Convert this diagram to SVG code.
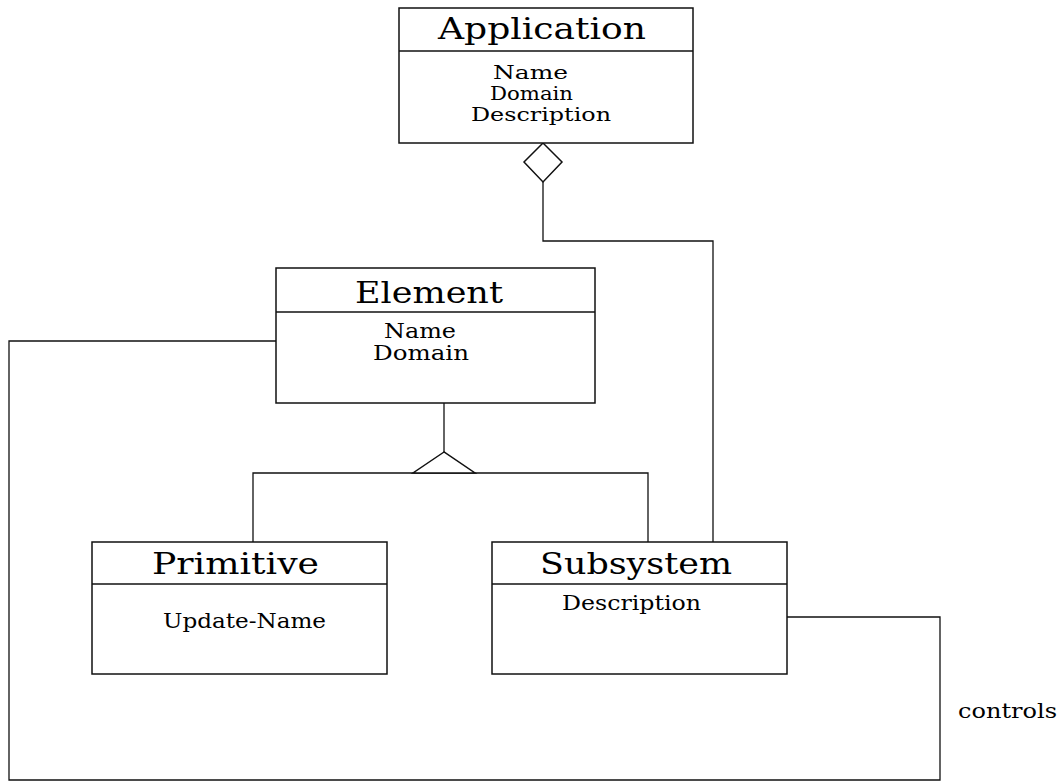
<svg xmlns="http://www.w3.org/2000/svg" width="1064" height="782" viewBox="0 0 1064 782">
<style>
.box{fill:#fff;stroke:#111;stroke-width:1.5}
.div{stroke:#111;stroke-width:1.5}
.ln{fill:none;stroke:#111;stroke-width:1.3}
.sym{fill:#fff;stroke:#111;stroke-width:1.5}
.t{font-family:"DejaVu Serif","Liberation Serif",serif;font-size:29px;fill:#000}
.a{font-family:"DejaVu Serif","Liberation Serif",serif;font-size:20px;fill:#000}
.s{font-size:18px}
</style>
<rect width="1064" height="782" fill="#fff"/>
<g id="connectors">
<path class="ln" d="M543,182 V241 H713 V542"/>
<path class="ln" d="M444,403 V452"/>
<path class="ln" d="M253,542 V473 H648 V542"/>
<path class="ln" d="M276,341 H9 V780 H940 V617 H787"/>
<polygon class="sym" points="444,452 413,473 475,473"/>
<polygon class="sym" points="543,143 524,162 543,182 562,162"/>
<text class="a" x="958" y="718" textLength="99" lengthAdjust="spacingAndGlyphs">controls</text>
</g>
<g id="application">
<rect class="box" x="399" y="8" width="294" height="135"/>
<line class="div" x1="399" y1="51" x2="693" y2="51"/>
<text class="t" x="438" y="39" textLength="208" lengthAdjust="spacingAndGlyphs">Application</text>
<text class="a s" x="493" y="79" textLength="75" lengthAdjust="spacingAndGlyphs">Name</text>
<text class="a s" x="490" y="100" textLength="83" lengthAdjust="spacingAndGlyphs">Domain</text>
<text class="a s" x="471" y="121" textLength="140" lengthAdjust="spacingAndGlyphs">Description</text>
</g>
<g id="element">
<rect class="box" x="276" y="268" width="319" height="135"/>
<line class="div" x1="276" y1="312" x2="595" y2="312"/>
<text class="t" x="355" y="303" textLength="148" lengthAdjust="spacingAndGlyphs">Element</text>
<text class="a" x="384" y="338" textLength="72" lengthAdjust="spacingAndGlyphs">Name</text>
<text class="a" x="373" y="360" textLength="96" lengthAdjust="spacingAndGlyphs">Domain</text>
</g>
<g id="primitive">
<rect class="box" x="92" y="542" width="295" height="132"/>
<line class="div" x1="92" y1="584" x2="387" y2="584"/>
<text class="t" x="152" y="574" textLength="167" lengthAdjust="spacingAndGlyphs">Primitive</text>
<text class="a" x="163" y="628" textLength="163" lengthAdjust="spacingAndGlyphs">Update-Name</text>
</g>
<g id="subsystem">
<rect class="box" x="492" y="542" width="295" height="132"/>
<line class="div" x1="492" y1="584" x2="787" y2="584"/>
<text class="t" x="540" y="574" textLength="192" lengthAdjust="spacingAndGlyphs">Subsystem</text>
<text class="a" x="562" y="610" textLength="139" lengthAdjust="spacingAndGlyphs">Description</text>
</g>
</svg>
